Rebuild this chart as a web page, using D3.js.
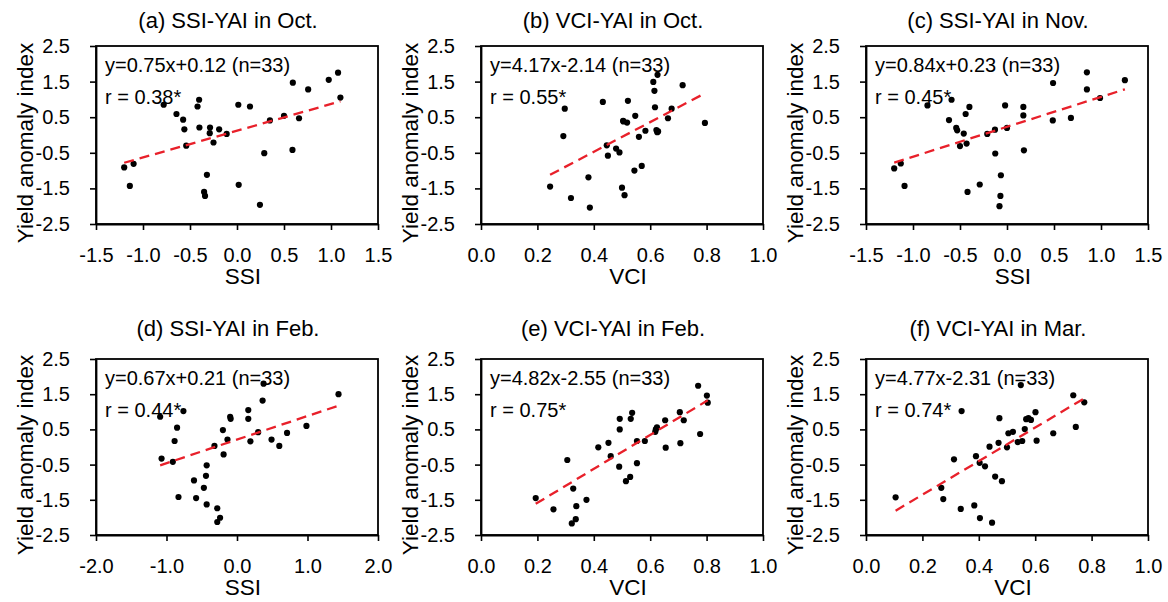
<!DOCTYPE html>
<html>
<head>
<meta charset="utf-8">
<script src="https://cdn.jsdelivr.net/npm/d3@7"></script>
<style>
  body { margin: 0; background: #fff; }
  svg text { font-family: "Liberation Sans", Arial, sans-serif; fill: #000; }
</style>
</head>
<body>
<div id="chart"></div>
<script>
// panel texts
var titles = ["(a) SSI-YAI in Oct.", "(b) VCI-YAI in Oct.", "(c) SSI-YAI in Nov.",
              "(d) SSI-YAI in Feb.", "(e) VCI-YAI in Feb.", "(f) VCI-YAI in Mar."];
var xLabels = ["SSI", "VCI", "SSI", "SSI", "VCI", "VCI"];
var equations = ["y=0.75x+0.12 (n=33)", "y=4.17x-2.14 (n=33)", "y=0.84x+0.23 (n=33)",
                 "y=0.67x+0.21 (n=33)", "y=4.82x-2.55 (n=33)", "y=4.77x-2.31 (n=33)"];
var rLabels = ["r = 0.38*", "r = 0.55*", "r = 0.45*", "r = 0.44*", "r = 0.75*", "r = 0.74*"];
var slopes = [0.75, 4.17, 0.84, 0.67, 4.82, 4.77];
var intercepts = [0.12, -2.14, 0.23, 0.21, -2.55, -2.31];

// axis ticks
var ssiTicks = [-1.5, -1.0, -0.5, 0.0, 0.5, 1.0, 1.5];
var ssiFebTicks = [-2.0, -1.0, 0.0, 1.0, 2.0];
var vciTicks = [0.0, 0.2, 0.4, 0.6, 0.8, 1.0];
var yaiTicks = [-2.5, -1.5, -0.5, 0.5, 1.5, 2.5];

// (a) SSI - YAI, Oct.
var ssiOct = [1.075, 0.976, 0.594, 0.757, 1.10, -0.403, -0.42, -0.78, 0.014, 0.138, -0.644, -0.573, 0.50, 0.66, 0.35, -0.56, -0.40, -0.287, -0.19, -0.29, -0.11, -0.25, -0.54, 0.29, 0.59, -1.20, -1.10, -0.32, -1.14, 0.018, -0.35, -0.34, 0.244];
var yaiA = [1.75, 1.55, 1.47, 1.28, 1.05, 0.99, 0.80, 0.85, 0.85, 0.80, 0.59, 0.43, 0.54, 0.47, 0.41, 0.16, 0.21, 0.21, 0.16, 0.05, 0.03, -0.21, -0.30, -0.51, -0.42, -0.91, -0.81, -1.12, -1.43, -1.40, -1.60, -1.71, -1.96];

// (b) VCI - YAI, Oct.
var vciOct = [0.626, 0.611, 0.715, 0.615, 0.432, 0.521, 0.297, 0.617, 0.676, 0.547, 0.504, 0.518, 0.663, 0.794, 0.583, 0.622, 0.625, 0.560, 0.292, 0.446, 0.479, 0.491, 0.450, 0.570, 0.544, 0.381, 0.245, 0.500, 0.509, 0.319, 0.386, 0.628, 0.505];
var yaiB = [1.69, 1.49, 1.40, 1.24, 0.93, 0.96, 0.74, 0.78, 0.74, 0.54, 0.40, 0.35, 0.47, 0.34, 0.12, 0.14, 0.08, -0.05, -0.03, -0.29, -0.38, -0.49, -0.58, -0.87, -1.00, -1.19, -1.45, -1.48, -1.69, -1.77, -2.04, 0.10, 0.38];

// (c) SSI - YAI, Nov.
var ssiNov = [0.85, 1.254, 0.49, 0.85, 0.99, -0.59, -0.846, -0.40, -0.02, 0.174, -0.44, 0.174, -0.617, 0.487, 0.68, -0.54, -0.53, 0.0, -0.128, -0.46, -0.21, -0.43, -0.50, 0.18, -0.125, -1.20, -1.13, -0.065, -1.09, -0.29, -0.42, -0.07, -0.08];
var yaiC = [1.76, 1.54, 1.46, 1.28, 1.04, 0.99, 0.83, 0.79, 0.83, 0.79, 0.59, 0.55, 0.42, 0.41, 0.48, 0.20, 0.13, 0.20, 0.15, 0.04, 0.03, -0.24, -0.31, -0.43, -0.52, -0.94, -0.80, -1.13, -1.43, -1.39, -1.60, -1.71, -2.0];

// (d) SSI - YAI, Feb.
var ssiFeb = [0.377, 1.44, 0.363, 0.16, -0.76, -1.09, -0.097, -0.09, 0.16, -0.85, -0.20, 0.985, 0.30, 0.71, -0.885, -0.135, 0.19, 0.49, -0.32, 0.60, -0.19, -1.07, -0.91, -0.43, -0.44, -0.61, -0.47, -0.83, -0.58, -0.43, -0.28, -0.24, -0.28];
var yaiD = [1.80, 1.50, 1.32, 1.05, 1.02, 0.86, 0.86, 0.80, 0.80, 0.55, 0.48, 0.60, 0.42, 0.40, 0.17, 0.21, 0.16, 0.21, 0.03, 0.03, -0.21, -0.33, -0.42, -0.52, -0.82, -0.95, -1.16, -1.42, -1.45, -1.63, -1.74, -2.01, -2.13];

// (e) VCI - YAI, Feb.
var vciFeb = [0.770, 0.801, 0.804, 0.705, 0.536, 0.531, 0.492, 0.492, 0.653, 0.719, 0.624, 0.618, 0.777, 0.707, 0.655, 0.553, 0.581, 0.452, 0.416, 0.460, 0.306, 0.490, 0.553, 0.529, 0.514, 0.327, 0.374, 0.194, 0.338, 0.257, 0.336, 0.322, 0.62];
var yaiE = [1.74, 1.46, 1.26, 0.99, 0.97, 0.80, 0.80, 0.50, 0.76, 0.76, 0.56, 0.43, 0.37, 0.11, -0.02, 0.17, 0.17, 0.12, -0.01, -0.26, -0.37, -0.56, -0.46, -0.85, -0.97, -1.18, -1.50, -1.45, -1.68, -1.77, -2.05, -2.17, 0.50];

// (f) VCI - YAI, Mar.
var vciMar = [0.549, 0.735, 0.774, 0.339, 0.473, 0.601, 0.568, 0.576, 0.585, 0.563, 0.521, 0.505, 0.664, 0.744, 0.605, 0.554, 0.538, 0.470, 0.438, 0.500, 0.312, 0.390, 0.403, 0.422, 0.458, 0.482, 0.267, 0.274, 0.105, 0.336, 0.384, 0.404, 0.447];
var yaiF = [1.76, 1.47, 1.27, 1.02, 0.82, 0.99, 0.79, 0.82, 0.77, 0.51, 0.43, 0.39, 0.39, 0.57, 0.18, 0.17, 0.14, 0.12, 0.01, -0.01, -0.35, -0.26, -0.45, -0.55, -0.84, -0.97, -1.16, -1.48, -1.43, -1.76, -1.66, -2.02, -2.15];

var xSeries = [ssiOct, vciOct, ssiNov, ssiFeb, vciFeb, vciMar];
var ySeries = [yaiA, yaiB, yaiC, yaiD, yaiE, yaiF];
var xTickSets = [ssiTicks, vciTicks, ssiTicks, ssiFebTicks, vciTicks, vciTicks];

var width = 1168, height = 602;
var colLeft = [96, 481, 866];
var rowTop = [46, 359];
var rowHeight = [178, 176];
var plotW = 282;

var svg = d3.select("#chart").append("svg")
    .attr("width", width)
    .attr("height", height);

var titleBase = [28, 336];

xSeries.forEach(function(xs, i) {
    var col = i % 3, row = Math.floor(i / 3);
    var left = colLeft[col], top = rowTop[row], h = rowHeight[row];
    var ticks = xTickSets[i];

    var x = d3.scaleLinear()
        .domain([ticks[0], ticks[ticks.length - 1]])
        .range([0, plotW]);
    var y = d3.scaleLinear()
        .domain([-2.5, 2.5])
        .range([h, 0]);

    var g = svg.append("g")
        .attr("transform", "translate(" + left + "," + top + ")");

    // frame
    g.append("rect")
        .attr("width", plotW)
        .attr("height", h)
        .attr("fill", "none")
        .attr("stroke", "#000")
        .attr("stroke-width", 1.8);

    var xAxis = g.append("g")
        .attr("transform", "translate(0," + h + ")")
        .call(d3.axisBottom(x).tickValues(ticks).tickSize(6).tickSizeOuter(0).tickPadding(17.5)
            .tickFormat(function(d) { return d.toFixed(1); }));

    var yAxis = g.append("g")
        .call(d3.axisLeft(y).tickValues(yaiTicks).tickSize(6).tickSizeOuter(0).tickPadding(20)
            .tickFormat(function(d) { return d.toFixed(1); }));

    [xAxis, yAxis].forEach(function(ax) {
        ax.select(".domain").attr("stroke", "#000").attr("stroke-width", 1.8);
        ax.selectAll(".tick line").attr("stroke", "#000").attr("stroke-width", 1.6);
        ax.selectAll(".tick text")
            .attr("font-family", "Liberation Sans, Arial, sans-serif")
            .attr("font-size", 20)
            .attr("fill", "#000");
    });

    // points
    var pts = xs.map(function(v, k) { return [v, ySeries[i][k]]; });
    g.selectAll("circle.pt")
        .data(pts)
        .enter().append("circle")
        .attr("class", "pt")
        .attr("cx", function(d) { return x(d[0]); })
        .attr("cy", function(d) { return y(d[1]); })
        .attr("r", 3.1)
        .attr("fill", "#000");

    // regression line over data range
    var ext = d3.extent(xs);
    var fit = ext.map(function(v) { return [v, slopes[i] * v + intercepts[i]]; });
    g.append("path")
        .datum(fit)
        .attr("d", d3.line().x(function(d) { return x(d[0]); }).y(function(d) { return y(d[1]); }))
        .attr("stroke", "#e8202a")
        .attr("stroke-width", 2.3)
        .attr("stroke-dasharray", "10,6")
        .attr("fill", "none");

    // equation and r
    g.append("text")
        .attr("x", 9)
        .attr("y", 26)
        .attr("font-size", 20)
        .text(equations[i]);
    g.append("text")
        .attr("x", 9)
        .attr("y", 58)
        .attr("font-size", 20)
        .text(rLabels[i]);

    // title
    svg.append("text")
        .attr("x", left + 132)
        .attr("y", titleBase[row])
        .attr("text-anchor", "middle")
        .attr("font-size", 22)
        .text(titles[i]);

    // x label
    g.append("text")
        .attr("x", 147)
        .attr("y", h + 60)
        .attr("text-anchor", "middle")
        .attr("font-size", 22.5)
        .text(xLabels[i]);

    // y label
    g.append("text")
        .attr("transform", "translate(-63," + (h / 2 + 8) + ") rotate(-90)")
        .attr("text-anchor", "middle")
        .attr("font-size", 22.5)
        .text("Yield anomaly index");
});
</script>
</body>
</html>
